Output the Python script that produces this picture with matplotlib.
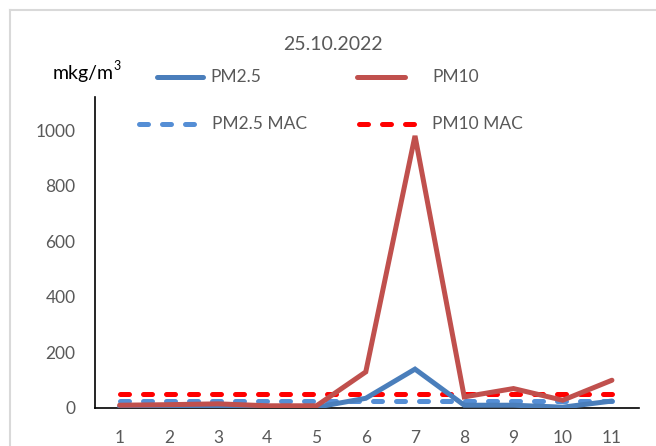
import matplotlib.pyplot as plt
from matplotlib.lines import Line2D

days = [1, 2, 3, 4, 5, 6, 7, 8, 9, 10, 11]
pm25 = [5, 5, 8, 3, 3, 35, 140, 10, 10, 3, 25]
pm10 = [10, 12, 15, 8, 8, 130, 980, 40, 70, 28, 100]
pm25_mac = [25] * 11
pm10_mac = [50] * 11
y_ticks = [0, 200, 400, 600, 800, 1000]

plt.rcParams['font.family'] = ['Lato', 'DejaVu Sans']

fig = plt.figure(figsize=(6.56, 4.46), dpi=100)
ax = fig.add_axes([95 / 656, 38 / 446, 544 / 656, 311 / 446])

gray = '#595959'
lw = 3.6
ax.plot(days, pm25_mac, color='#558ed5', lw=lw, dashes=(1.8, 2.8),
        dash_capstyle='round', label='PM2.5 MAC', zorder=2)
ax.plot(days, pm10_mac, color='#ff0000', lw=lw, dashes=(1.8, 2.8),
        dash_capstyle='round', label='PM10 MAC', zorder=2)
ax.plot(days, pm25, color='#4a7ebb', lw=lw, solid_capstyle='round',
        solid_joinstyle='miter', label='PM2.5', zorder=3)
ax.plot(days, pm10, color='#c0504d', lw=lw, solid_capstyle='round',
        solid_joinstyle='miter', label='PM10', zorder=3)

ax.set_xlim(0.5, 11.55)
ax.set_ylim(0, 1120)
ax.set_xticks(days)
ax.set_yticks(y_ticks)
ax.tick_params(length=0, labelsize=12.5, colors=gray)
ax.tick_params(axis='x', pad=16)
ax.tick_params(axis='y', pad=14)
for s in ['top', 'right']:
    ax.spines[s].set_visible(False)
for s in ['left', 'bottom']:
    ax.spines[s].set_color('black')
    ax.spines[s].set_linewidth(1.2)

fig.text(333 / 656, 1 - 45 / 446, '25.10.2022', ha='center', va='center',
         fontsize=14, color=gray)
fig.text(53 / 656, 1 - 74 / 446, 'mkg/m', ha='left', va='center',
         fontsize=14, color='black')
fig.text(113.5 / 656, 1 - 66 / 446, '3', ha='left', va='center',
         fontsize=9, color='black')

# legend drawn by hand in figure coordinates
handles = {
    'PM2.5': dict(color='#4a7ebb', x=(157, 203), y=77, dashed=False, tx=210),
    'PM10': dict(color='#c0504d', x=(357, 405), y=77, dashed=False, tx=432),
    'PM2.5 MAC': dict(color='#558ed5', x=(139, 200), y=124, dashed=True, tx=212),
    'PM10 MAC': dict(color='#ff0000', x=(359, 420), y=124, dashed=True, tx=432),
}
for name, h in handles.items():
    xs = [h['x'][0] / 656, h['x'][1] / 656]
    ys = [1 - h['y'] / 446] * 2
    ln = Line2D(xs, ys, transform=fig.transFigure, color=h['color'], lw=lw)
    if h['dashed']:
        ln.set_dashes((1.8, 2.8))
        ln.set_dash_capstyle('round')
    else:
        ln.set_solid_capstyle('round')
    fig.add_artist(ln)
    fig.text(h['tx'] / 656, 1 - h['y'] / 446, name, ha='left', va='center',
             fontsize=12.5, color=gray)

# chart border
fig.add_artist(Line2D([10 / 656, 1], [1 - 10 / 446] * 2, transform=fig.transFigure,
                      color='#d9d9d9', lw=1.5))
fig.add_artist(Line2D([10 / 656] * 2, [0, 1 - 10 / 446], transform=fig.transFigure,
                      color='#d9d9d9', lw=1.5))

fig.savefig('out.png', dpi=100)
